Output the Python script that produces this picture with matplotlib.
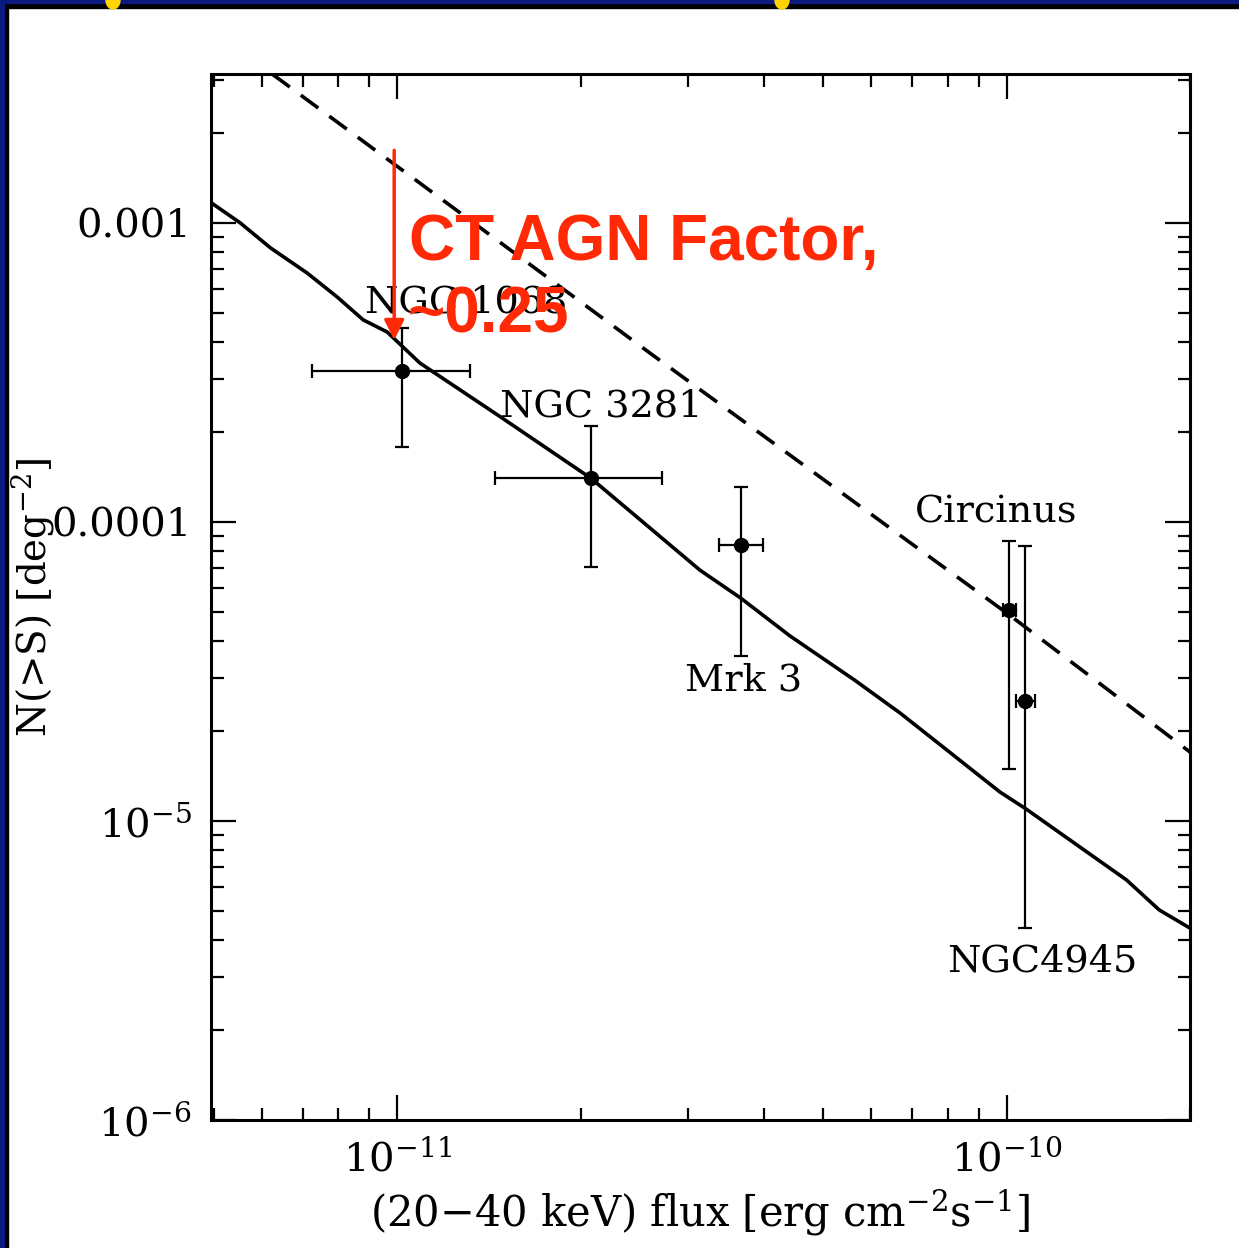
import matplotlib
matplotlib.use("Agg")
import matplotlib.pyplot as plt
from matplotlib.patches import Rectangle, Ellipse

plt.rcParams['font.family'] = 'DejaVu Serif'
plt.rcParams['mathtext.fontset'] = 'dejavuserif'

# source points: flux, N(>S), error bounds
names = ["NGC 1068", "NGC 3281", "Mrk 3", "Circinus", "NGC4945"]
flux = [1.02e-11, 2.08e-11, 3.66e-11, 1.01e-10, 1.074e-10]
flux_lo = [7.26e-12, 1.45e-11, 3.38e-11, 9.85e-11, 1.038e-10]
flux_hi = [1.317e-11, 2.72e-11, 3.98e-11, 1.038e-10, 1.115e-10]
nsrc = [3.2e-4, 1.40e-4, 8.38e-5, 5.08e-5, 2.52e-5]
nsrc_lo = [1.78e-4, 7.08e-5, 3.56e-5, 1.49e-5, 4.39e-6]
nsrc_hi = [4.45e-4, 2.09e-4, 1.31e-4, 8.64e-5, 8.32e-5]

# label anchor positions (left, baseline)
lab_x = [8.86e-12, 1.476e-11, 2.97e-11, 7.06e-11, 7.98e-11]
lab_y = [5.0e-4, 2.245e-4, 2.74e-5, 9.93e-5, 3.13e-6]

# model curves
model_x = [4.95e-12, 5.53e-12, 6.20e-12, 7.12e-12, 7.97e-12, 8.80e-12, 9.63e-12,
           1.09e-11, 1.476e-11, 2.08e-11, 3.14e-11, 3.66e-11, 4.41e-11, 5.63e-11,
           6.68e-11, 7.86e-11, 9.75e-11, 1.074e-10, 1.573e-10, 1.78e-10, 2.0e-10]
model_y = [1.17e-3, 1.0e-3, 8.25e-4, 6.80e-4, 5.66e-4, 4.74e-4, 4.32e-4,
           3.40e-4, 2.25e-4, 1.40e-4, 6.90e-5, 5.57e-5, 4.16e-5, 2.96e-5,
           2.30e-5, 1.77e-5, 1.25e-5, 1.10e-5, 6.35e-6, 5.04e-6, 4.38e-6]
dash_x = [5.6e-12, 6.50e-12, 2.60e-11, 1.01e-10, 2.0e-10]
dash_y = [3.69e-3, 2.96e-3, 3.67e-4, 4.89e-5, 1.70e-5]

fig = plt.figure(figsize=(12.39, 12.48), dpi=100)
ax = fig.add_axes([0.1703, 0.1026, 0.7902, 0.8381])

ax.plot(model_x, model_y, color='black', lw=2.6)
ax.plot(dash_x, dash_y, color='black', lw=2.6, dashes=(6, 3.8))

xerr = [[f - lo for f, lo in zip(flux, flux_lo)], [hi - f for f, hi in zip(flux, flux_hi)]]
yerr = [[n - lo for n, lo in zip(nsrc, nsrc_lo)], [hi - n for n, hi in zip(nsrc, nsrc_hi)]]
ax.errorbar(flux, nsrc, xerr=xerr, yerr=yerr, fmt='o', color='black', ms=10,
            elinewidth=1.6, capsize=5, capthick=1.6)

for nm, x, y in zip(names, lab_x, lab_y):
    ax.text(x, y, nm, fontsize=27.5, ha='left', va='baseline')

ax.set_xscale('log')
ax.set_yscale('log')
ax.set_xlim(4.95e-12, 2.0e-10)
ax.set_ylim(1e-6, 3.15e-3)

ax.set_xticks([1e-11, 1e-10])
ax.set_xticklabels([r'$10^{-11}$', r'$10^{-10}$'])
ax.set_yticks([1e-6, 1e-5, 1e-4, 1e-3])
ax.set_yticklabels([r'$10^{-6}$', r'$10^{-5}$', '0.0001', '0.001'])
ax.tick_params(which='both', direction='in', top=True, right=True, width=1.6)
ax.tick_params(which='major', length=18, labelsize=29, pad=14)
ax.tick_params(which='minor', length=9)
ax.tick_params(axis='x', which='major', pad=14)
for s in ax.spines.values():
    s.set_linewidth(2.2)

ax.set_xlabel(r'(20$-$40 keV) flux [erg cm$^{-2}$s$^{-1}$]', fontsize=30, labelpad=6)
ax.set_ylabel(r'N(>S) [deg$^{-2}$]', fontsize=28)
ax.yaxis.set_label_coords(-0.158, 0.5)

# red annotation
red = '#ff2a05'
ax.annotate('', xy=(9.89e-12, 4.06e-4), xytext=(9.89e-12, 1.75e-3),
            arrowprops=dict(arrowstyle='-|>', color=red, lw=2.5,
                            mutation_scale=30, shrinkA=0, shrinkB=0))
ax.text(1.047e-11, 7.52e-4, 'CT AGN Factor,', color=red, fontsize=46,
        fontweight='bold', family='Liberation Sans', ha='left', va='baseline')
ax.text(1.04e-11, 4.29e-4, '~0.25', color=red, fontsize=46,
        fontweight='bold', family='Liberation Sans', ha='left', va='baseline')

# slide frame
W, H = 1239, 1248
fig.patches.append(Rectangle((0, 0), 8 / W, 1, transform=fig.transFigure, color='black', zorder=5))
fig.patches.append(Rectangle((0, 0), 4 / W, 1, transform=fig.transFigure, color='#0b1a80', zorder=6))
fig.patches.append(Rectangle((0, 1 - 8 / H), 1, 8 / H, transform=fig.transFigure, color='black', zorder=5))
fig.patches.append(Rectangle((0, 1 - 3 / H), 1, 3 / H, transform=fig.transFigure, color='#0b1a80', zorder=6))
for cx in [113, 782]:
    fig.patches.append(Ellipse((cx / W, 1), 14 / W, 18 / H, transform=fig.transFigure,
                               color='#ffd400', zorder=7))

fig.savefig('out.png', dpi=100)
